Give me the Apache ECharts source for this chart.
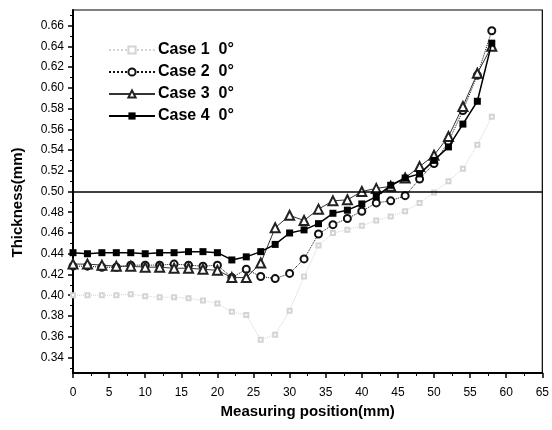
<!DOCTYPE html>
<html><head><meta charset="utf-8">
<script src="https://cdn.jsdelivr.net/npm/echarts@6/dist/echarts.min.js"></script>
<style>html,body{margin:0;padding:0;background:#fff}#c{width:552px;height:430px}</style>
</head><body><div id="c"></div>
<script>
const positions = [0,2,4,6,8,10,12,14,16,18,20,22,24,26,28,30,32,34,36,38,40,42,44,46,48,50,52,54,56,58];
const case1 = [0.400,0.400,0.400,0.400,0.401,0.399,0.398,0.398,0.397,0.395,0.392,0.384,0.381,0.357,0.362,0.385,0.418,0.448,0.460,0.463,0.467,0.472,0.476,0.481,0.489,0.499,0.510,0.522,0.545,0.572];
const case2 = [0.428,0.428,0.427,0.427,0.429,0.429,0.429,0.430,0.429,0.428,0.429,0.417,0.425,0.418,0.416,0.421,0.435,0.459,0.468,0.474,0.481,0.489,0.491,0.496,0.512,0.527,0.548,0.578,0.612,0.655];
const case3 = [0.430,0.430,0.429,0.428,0.428,0.427,0.427,0.426,0.426,0.425,0.424,0.417,0.417,0.431,0.465,0.477,0.472,0.483,0.491,0.492,0.500,0.503,0.505,0.513,0.524,0.535,0.553,0.582,0.614,0.640];
const case4 = [0.441,0.440,0.441,0.441,0.441,0.440,0.441,0.441,0.442,0.442,0.441,0.434,0.437,0.442,0.449,0.460,0.463,0.469,0.479,0.482,0.488,0.495,0.506,0.513,0.517,0.530,0.543,0.565,0.587,0.643];
const seriesNames = ['Case 1  0°','Case 2  0°','Case 3  0°','Case 4  0°'];
const yTickValues = [0.34,0.36,0.38,0.40,0.42,0.44,0.46,0.48,0.50,0.52,0.54,0.56,0.58,0.60,0.62,0.64,0.66];
const yMinorValues = [0.33,0.35,0.37,0.39,0.41,0.43,0.45,0.47,0.49,0.51,0.53,0.55,0.57,0.59,0.61,0.63,0.65,0.67];
const refLine = 0.50;

const pairs = arr => positions.map((x,i)=>[x,arr[i]]);
const font = 'Liberation Sans, Arial, sans-serif';
const chart = echarts.init(document.getElementById('c'));
chart.setOption({
  animation:false,
  backgroundColor:'#fff',
  grid:{left:73,right:6,top:10,bottom:57,show:true,borderColor:'#000',borderWidth:1.2},
  legend:{
    orient:'vertical',left:103,top:37,itemWidth:46,itemHeight:9,itemGap:6,
    data:seriesNames,
    textStyle:{fontFamily:font,fontSize:16,fontWeight:'bold',color:'#000',padding:[0,0,0,-2]}
  },
  xAxis:{
    type:'value',min:0,max:65,interval:5,
    name:'Measuring position(mm)',nameLocation:'middle',nameGap:16,
    nameTextStyle:{fontFamily:font,fontSize:15,fontWeight:'bold',color:'#000'},
    axisLine:{lineStyle:{color:'#000',width:2}},
    axisTick:{show:true,inside:false,length:5,lineStyle:{color:'#000',width:1.5}},
    minorTick:{show:true,splitNumber:2,length:3,lineStyle:{color:'#000',width:1}},
    axisLabel:{fontFamily:font,fontSize:12,color:'#000',margin:14},
    splitLine:{show:false}
  },
  yAxis:[{
    type:'value',min:0.325,max:0.675,
    name:'Thickness(mm)',nameLocation:'middle',nameGap:48,
    nameTextStyle:{fontFamily:font,fontSize:15,fontWeight:'bold',color:'#000',padding:[0,22,0,0]},
    axisLine:{show:true,lineStyle:{color:'#000',width:2}},
    axisTick:{show:true,length:5,customValues:yTickValues,lineStyle:{color:'#000',width:1.5}},
    axisLabel:{fontFamily:font,fontSize:12,color:'#000',margin:9,customValues:yTickValues,formatter:v=>v.toFixed(2)},
    splitLine:{show:false}
  },{
    type:'value',min:0.325,max:0.675,position:'left',
    axisLine:{show:false},
    axisTick:{show:true,length:3,customValues:yMinorValues,lineStyle:{color:'#000',width:1}},
    axisLabel:{show:false},splitLine:{show:false}
  }],
  series:[
    {name:seriesNames[0],type:'line',data:pairs(case1),symbol:'emptyRect',symbolSize:4,
     itemStyle:{color:'#d4d4d4'},lineStyle:{color:'#d4d4d4',width:1,type:'dotted'},z:2,
     markLine:{silent:true,symbol:['none','none'],label:{show:false},lineStyle:{color:'#000',width:1.5,type:'solid'},data:[{yAxis:refLine}]}},
    {name:seriesNames[1],type:'line',data:pairs(case2),symbol:'emptyCircle',symbolSize:7,
     itemStyle:{color:'#111',borderWidth:1},lineStyle:{color:'#111',width:1,type:'dotted'},z:3},
    {name:seriesNames[2],type:'line',data:pairs(case3),symbol:'emptyTriangle',symbolSize:9,
     itemStyle:{color:'#222',borderWidth:1},lineStyle:{color:'#333',width:1,type:'solid'},z:4},
    {name:seriesNames[3],type:'line',data:pairs(case4),symbol:'rect',symbolSize:7,
     itemStyle:{color:'#000'},lineStyle:{color:'#000',width:1.5,type:'solid'},z:5}
  ]
});
</script></body></html>
